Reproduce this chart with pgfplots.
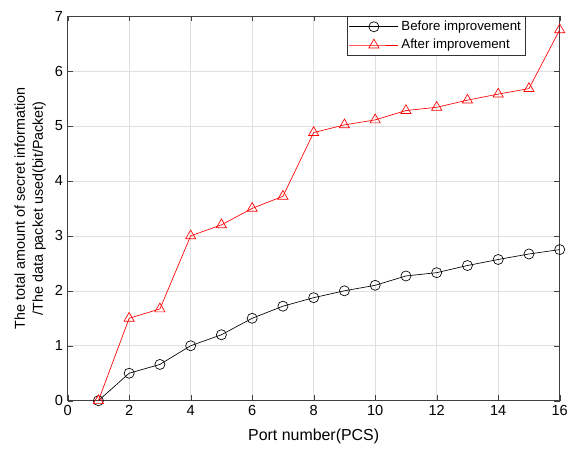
\documentclass[border={51pt 2pt 7pt 5pt}]{standalone}
\usepackage{fontspec}
\setmainfont{Liberation Sans}
\usepackage{pgfplots}
\pgfplotsset{compat=1.18}

\begin{document}
\begin{tikzpicture}[trim axis left, trim axis right]
\begin{axis}[
    scale only axis,
    width=371pt, height=290pt,
    xmin=0, xmax=16, ymin=0, ymax=7,
    xtick={0,2,...,16}, ytick={0,1,...,7},
    tick align=inside,
    major tick length=4pt,
    axis line style={black!75},
    tick style={black!75},
    grid=major,
    major grid style={gray!25, line width=0.4pt},
    tick label style={font=\fontsize{11}{13}\selectfont},
    /pgf/number format/assume math mode=true,
    xlabel={Port number(PCS)},
    xlabel style={font=\fontsize{12}{14}\selectfont, yshift=-3pt},
    ylabel={The total amount of secret information\\/The data packet used(bit/Packet)},
    ylabel style={align=center, yshift=0pt, font=\fontsize{10.8}{13.5}\selectfont},
    legend style={at={(0.931,1)}, anchor=north east, draw=black!80, font=\fontsize{10}{12}\selectfont, row sep=1pt, inner sep=1.5pt},
    legend cell align=left,
    legend image code/.code={
        \draw[mark repeat=2, mark phase=2] plot coordinates {(0cm,0cm) (0.65cm,0cm) (1.3cm,0cm)};
    },
    every axis plot/.append style={line width=0.5pt},
]
\addplot[black, mark=o, mark size=3.8pt] coordinates {
(1,0) (2,0.5) (3,0.66) (4,1.0) (5,1.2) (6,1.5) (7,1.72) (8,1.875)
(9,2.0) (10,2.1) (11,2.27) (12,2.33) (13,2.46) (14,2.57) (15,2.67) (16,2.75)};
\addlegendentry{Before improvement}
\addplot[red, mark=triangle, mark size=4.4pt] coordinates {
(1,0) (2,1.5) (3,1.67) (4,3.0) (5,3.2) (6,3.5) (7,3.72) (8,4.88)
(9,5.02) (10,5.11) (11,5.28) (12,5.34) (13,5.47) (14,5.58) (15,5.68) (16,6.75)};
\addlegendentry{After improvement}
\end{axis}
\end{tikzpicture}
\end{document}
